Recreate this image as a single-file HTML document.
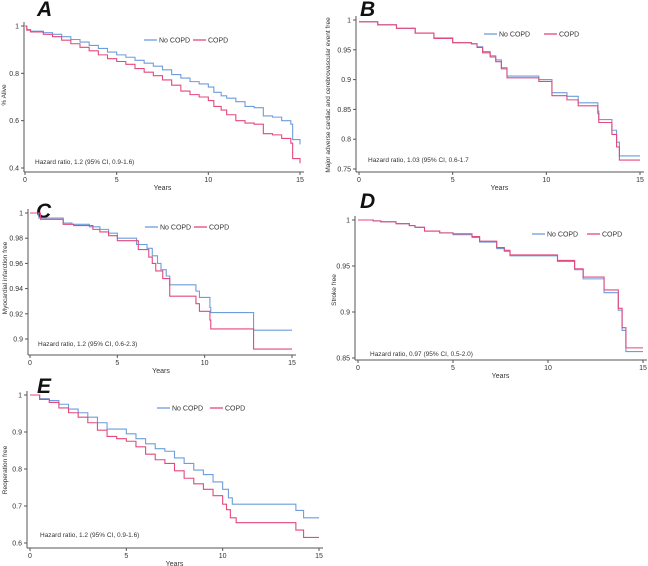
<!DOCTYPE html>
<html><head><meta charset="utf-8">
<style>
html,body{margin:0;padding:0;background:#fff;width:648px;height:566px;overflow:hidden}
svg{display:block;font-family:"Liberation Sans",sans-serif}
</style></head>
<body>
<svg id="chart" width="648" height="566" viewBox="0 0 648 566"></svg>
<script>
// Panel A: % alive
const aTimesNo=[0,0.1,0.3,1,1.5,2,2.5,3,3.5,4,4.5,5,5.5,6,6.5,7,7.5,8,8.5,9,9.5,10,10.3,10.7,11,11.5,12,12.5,13,13.5,14,14.5,14.6,15];
const aValsNo=[1,0.985,0.978,0.972,0.965,0.955,0.943,0.932,0.918,0.905,0.89,0.878,0.868,0.855,0.843,0.83,0.815,0.795,0.78,0.765,0.755,0.742,0.72,0.705,0.695,0.68,0.66,0.655,0.62,0.615,0.6,0.585,0.52,0.50];
const aTimesCopd=[0,0.1,0.3,1,1.5,2,2.5,3,3.5,4,4.5,5,5.5,6,6.5,7,7.5,8,8.5,9,9.5,10,10.3,10.7,11,11.5,12,12.5,13,13.5,14,14.5,14.6,15];
const aValsCopd=[1,0.982,0.975,0.965,0.955,0.94,0.925,0.91,0.895,0.878,0.862,0.85,0.838,0.82,0.805,0.79,0.772,0.75,0.725,0.71,0.7,0.685,0.66,0.645,0.625,0.6,0.59,0.585,0.545,0.54,0.525,0.505,0.44,0.42];
const aTicksY=[1,0.8,0.6,0.4];
const aTickLabelsY=["1","0.8","0.6","0.4"];
// Panel B: MACCE free
const bTimesNo=[0,1,2,3,4,5,6,6.3,6.6,7,7.3,7.6,7.9,9.6,10.3,11.1,11.7,12.75,12.8,13.5,13.75,13.9,15];
const bValsNo=[0.997,0.992,0.986,0.978,0.97,0.962,0.96,0.955,0.947,0.94,0.933,0.92,0.906,0.9,0.878,0.872,0.861,0.847,0.833,0.815,0.795,0.772,0.772];
const bTimesCopd=[0,1,2,3,4,5,6,6.3,6.6,7,7.3,7.6,7.9,9.6,10.3,11.1,11.7,12.75,12.8,13.5,13.75,13.9,15];
const bValsCopd=[0.997,0.992,0.986,0.978,0.969,0.962,0.96,0.954,0.945,0.938,0.93,0.918,0.903,0.897,0.873,0.866,0.856,0.843,0.828,0.808,0.787,0.765,0.765];
const bTicksY=[1,0.95,0.9,0.85,0.8,0.75];
const bTickLabelsY=["1","0.95","0.9","0.85","0.8","0.75"];
// Panel C: MI free
const cTimesNo=[0,0.5,1.9,2.4,3.4,4,4.5,5,6.1,6.7,7,7.3,7.5,7.8,8.0,9.5,9.7,10.3,10.35,12.8,15];
const cValsNo=[1,0.996,0.992,0.991,0.989,0.987,0.984,0.98,0.975,0.972,0.966,0.96,0.955,0.95,0.943,0.938,0.933,0.925,0.921,0.907,0.907];
const cTimesCopd=[0,0.6,1.9,2.5,3.6,4,4.5,5,6.2,6.8,7,7.2,7.6,8,9.5,9.7,10.3,10.35,12.8,15];
const cValsCopd=[1,0.995,0.991,0.99,0.987,0.985,0.982,0.978,0.971,0.965,0.96,0.954,0.948,0.934,0.928,0.922,0.915,0.908,0.892,0.892];
const cTicksY=[1,0.98,0.96,0.94,0.92,0.9];
const cTickLabelsY=["1","0.98","0.96","0.94","0.92","0.9"];
// Panel D: stroke free
const dTimesNo=[0,0.8,1.2,2,2.7,3,3.5,4.3,5,6,6.4,7.3,7.7,8,10.5,11.4,11.85,12.95,13.7,13.9,14.1,15];
const dValsNo=[1,0.999,0.998,0.996,0.994,0.992,0.988,0.986,0.984,0.981,0.976,0.969,0.966,0.961,0.955,0.946,0.936,0.921,0.902,0.88,0.857,0.857];
const dTimesCopd=[0,0.8,1.2,2,2.7,3,3.5,4.3,5,6,6.4,7.3,7.7,8,10.5,11.4,11.85,12.95,13.7,13.9,14.1,15];
const dValsCopd=[1,0.999,0.998,0.996,0.994,0.992,0.988,0.986,0.985,0.982,0.977,0.97,0.967,0.962,0.956,0.947,0.938,0.924,0.904,0.883,0.861,0.861];
const dTicksY=[1,0.95,0.9,0.85];
const dTickLabelsY=["1","0.95","0.9","0.85"];
// Panel E: reoperation free
const eTimesNo=[0,0.5,1,1.5,2,2.5,3,3.5,4,5,5.5,6,6.5,7,7.5,8,8.5,9,9.5,10,10.3,10.5,13.8,14.2,15];
const eValsNo=[1,0.99,0.985,0.975,0.962,0.952,0.94,0.925,0.908,0.895,0.882,0.868,0.855,0.848,0.83,0.815,0.797,0.785,0.765,0.745,0.722,0.705,0.688,0.668,0.668];
const eTimesCopd=[0,0.5,1,1.5,2,2.5,3,3.5,4,4.5,5,5.5,6,6.5,7,7.5,8,8.5,9,9.5,10,10.2,10.4,10.7,13.8,14.2,15];
const eValsCopd=[1,0.988,0.98,0.965,0.952,0.94,0.925,0.905,0.888,0.882,0.875,0.86,0.84,0.825,0.815,0.795,0.775,0.76,0.745,0.728,0.705,0.69,0.668,0.655,0.635,0.615,0.615];
const eTicksY=[1,0.9,0.8,0.7,0.6];
const eTickLabelsY=["1","0.9","0.8","0.7","0.6"];
const xTicks=[0,5,10,15];

const NS="http://www.w3.org/2000/svg";
const svg=document.getElementById('chart');
const BLUE="#6d9ddc", PINK="#e4487c", AX="#555";
function mk(tag,attrs,parent){const e=document.createElementNS(NS,tag);for(const k in attrs)e.setAttribute(k,attrs[k]);(parent||svg).appendChild(e);return e;}

function panel(p){
  const g=mk('g',{});
  
  
  const xs=t=>p.x0+(t/15)*(p.x1-p.x0);
  const ys=v=>p.yTopPx+(p.yTopVal-v)/(p.yTopVal-p.yRefVal)*(p.yRefPx-p.yTopPx);
  // letter
  const L=mk('text',{x:p.lx,y:p.ly,'font-size':21,'font-weight':'bold','font-style':'italic',fill:'#111'},g);
  L.textContent=p.id.toUpperCase();
  
  
  // axes
  const ya=mk('line',{x1:p.ax,y1:p.yTopPx-4,x2:p.ax,y2:p.axB,stroke:AX,'stroke-width':1},g);
  
  
  const xa=mk('line',{x1:p.ax,y1:p.axB,x2:p.x1+4,y2:p.axB,stroke:AX,'stroke-width':1},g);
  
  
  p.ticksY.forEach((v,i)=>{
    mk('line',{x1:p.ax-3,y1:ys(v),x2:p.ax,y2:ys(v),stroke:AX},g);
    const t=mk('text',{x:p.ax-5,y:ys(v)+2.5,'font-size':7,'text-anchor':'end',fill:'#333'},g);
    t.textContent=p.labelsY[i];
    
    
  });
  xTicks.forEach(v=>{
    mk('line',{x1:xs(v),y1:p.axB,x2:xs(v),y2:p.axB+3,stroke:AX},g);
    const t=mk('text',{x:xs(v),y:p.axB+10,'font-size':7,'text-anchor':'middle',fill:'#333'},g);
    t.textContent=String(v);
    
    
  });
  const xt=mk('text',{x:(p.x0+p.x1)/2,y:p.axB+18,'font-size':7,'text-anchor':'middle',fill:'#333'},g);
  xt.textContent='Years';
  
  
  const yt=mk('text',{x:0,y:0,'font-size':6.5,'text-anchor':'middle',fill:'#333',transform:`translate(${p.ytx},${p.yty}) rotate(-90)`},g);
  yt.textContent=p.ytitle;
  
  
  // series
  function step(ts,vs,color,name){
    let d=`M${xs(ts[0])},${ys(vs[0])}`;
    for(let i=1;i<ts.length;i++){d+=` H${xs(ts[i])} V${ys(vs[i])}`;}
    const path=mk('path',{d:d,fill:'none',stroke:color,'stroke-width':1.1},g);
    
    
  }
  step(p.tNo,p.vNo,BLUE,'curve-no-copd');
  step(p.tC,p.vC,PINK,'curve-copd');
  // legend
  const lg=mk('g',{},g);
  
  
  mk('line',{x1:p.legX,y1:p.legY,x2:p.legX+13,y2:p.legY,stroke:BLUE,'stroke-width':1.3},lg);
  const l1=mk('text',{x:p.legX+15,y:p.legY+2.5,'font-size':7,fill:'#333'},lg);
  l1.textContent='No COPD';
  
  
  mk('line',{x1:p.legX2,y1:p.legY,x2:p.legX2+13,y2:p.legY,stroke:PINK,'stroke-width':1.3},lg);
  const l2=mk('text',{x:p.legX2+15,y:p.legY+2.5,'font-size':7,fill:'#333'},lg);
  l2.textContent='COPD';
  
  
  const hz=mk('text',{x:p.hx,y:p.hy,'font-size':6.5,fill:'#333'},g);
  hz.textContent=p.hr;
  
  
}

panel({id:'a',x0:25,x1:300,ax:24,axB:172,yTopVal:1,yRefVal:0.4,yTopPx:26,yRefPx:168,ticksY:aTicksY,labelsY:aTickLabelsY,
 tNo:aTimesNo,vNo:aValsNo,tC:aTimesCopd,vC:aValsCopd,lx:37,ly:16,ytx:6,yty:95,ytitle:'% Alive',
 legX:144,legX2:193,legY:40,hx:35,hy:164,hr:'Hazard ratio, 1.2 (95% CI, 0.9-1.6)'});
panel({id:'b',x0:359,x1:640,ax:356,axB:172,yTopVal:1,yRefVal:0.75,yTopPx:20,yRefPx:169,ticksY:bTicksY,labelsY:bTickLabelsY,
 tNo:bTimesNo,vNo:bValsNo,tC:bTimesCopd,vC:bValsCopd,lx:360,ly:16,ytx:330,yty:95,ytitle:'Major adverse cardiac and cerebrovascular event free',
 legX:484,legX2:544,legY:34,hx:368,hy:162,hr:'Hazard ratio, 1.03 (95% CI, 0.6-1.7'});
panel({id:'c',x0:30,x1:292,ax:28,axB:355,yTopVal:1,yRefVal:0.9,yTopPx:213,yRefPx:339,ticksY:cTicksY,labelsY:cTickLabelsY,
 tNo:cTimesNo,vNo:cValsNo,tC:cTimesCopd,vC:cValsCopd,lx:36,ly:218,ytx:7,yty:278,ytitle:'Myocardial infarction free',
 legX:145,legX2:194,legY:227,hx:38,hy:346,hr:'Hazard ratio, 1.2 (95% CI, 0.6-2.3)'});
panel({id:'d',x0:358,x1:643,ax:355,axB:360,yTopVal:1,yRefVal:0.85,yTopPx:220,yRefPx:358,ticksY:dTicksY,labelsY:dTickLabelsY,
 tNo:dTimesNo,vNo:dValsNo,tC:dTimesCopd,vC:dValsCopd,lx:360,ly:208,ytx:336,yty:290,ytitle:'Stroke free',
 legX:532,legX2:587,legY:234,hx:370,hy:356,hr:'Hazard ratio, 0.97 (95% CI, 0.5-2.0)'});
panel({id:'e',x0:30,x1:319,ax:27,axB:548,yTopVal:1,yRefVal:0.6,yTopPx:395,yRefPx:543,ticksY:eTicksY,labelsY:eTickLabelsY,
 tNo:eTimesNo,vNo:eValsNo,tC:eTimesCopd,vC:eValsCopd,lx:37,ly:393,ytx:7,yty:470,ytitle:'Reoperation free',
 legX:157,legX2:210,legY:408,hx:40,hy:537,hr:'Hazard ratio, 1.2 (95% CI, 0.9-1.6)'});
</script>
</body></html>
